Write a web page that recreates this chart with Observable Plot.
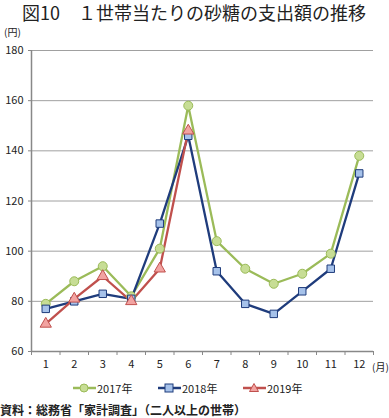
<!DOCTYPE html>
<html><head><meta charset="utf-8">
<script src="https://cdn.jsdelivr.net/npm/d3@7"></script>
<script src="https://cdn.jsdelivr.net/npm/@observablehq/plot@0.6"></script>
<style>
body{margin:0;background:#fff;font-family:"Noto Sans CJK JP","Noto Sans",sans-serif;}
#wrap{position:relative;width:389px;height:418px;overflow:hidden;}
.abs{position:absolute;white-space:nowrap;color:#222;}
#title{left:22px;top:0px;font-size:18px;line-height:24px;font-weight:400;}
#chart{position:absolute;left:0;top:25px;}
#legend{left:0;top:380px;width:389px;height:16px;font-size:11px;}
#legend .item{position:absolute;top:0;display:flex;align-items:center;}
#caption{left:0;top:402px;font-size:12px;font-weight:bold;line-height:16px;}
.unit{font-size:10px;line-height:12px;}
</style></head>
<body><div id="wrap">
<div id="title" class="abs">図10　１世帯当たりの砂糖の支出額の推移</div>
<div id="unitY" class="abs unit" style="left:4px;top:26px;">(円)</div>
<div id="unitX" class="abs unit" style="left:372px;top:361px;">(月)</div>
<div id="chart"></div>
<div id="legend" class="abs"></div>
<div id="caption" class="abs">資料：総務省「家計調査」（二人以上の世帯）</div>
</div>
<script>
const months = [1,2,3,4,5,6,7,8,9,10,11,12];
const years = ["2017年","2018年","2019年"];
const v2017 = [79,88,94,82,101,158,104,93,87,91,99,138];
const v2018 = [77,80,83,81,111,146,92,79,75,84,93,131];
const v2019 = [71,81,90,80,93,148];
const yTicks = [60,80,100,120,140,160,180];
const lineColors = ["#9BBB59","#1F3C7C","#C0504D"];
const fillColors = ["#C7DD95","#A6C2EA","#F2A3A1"];
const symbols = ["circle","square","triangle"];

const series = [v2017, v2018, v2019];
const rows = [];
series.forEach((vals, i) => vals.forEach((v, j) => rows.push({year: years[i], month: months[j], value: v})));
const bounds = d3.range(0.5, 13, 1);

const plot = Plot.plot({
  width: 389, height: 350,
  marginLeft: 31, marginRight: 16, marginTop: 25, marginBottom: 24,
  style: {fontFamily: '"Noto Sans CJK JP","Noto Sans",sans-serif', fontSize: "11px", color: "#222"},
  x: {type: "linear", domain: [0.5, 12.5], axis: null, label: null},
  y: {domain: [60, 180], axis: null, label: null},
  marks: [
    Plot.gridY(yTicks.slice(1), {stroke: "#a0a0a0", strokeOpacity: 1, strokeWidth: 1}),
    Plot.axisY({ticks: yTicks, tickSize: 3, stroke: "#888", tickPadding: 5, tickFormat: d => String(d), fontSize: 11, label: null}),
    Plot.axisX({ticks: bounds, tickSize: 4, stroke: "#888", tickFormat: () => "", label: null}),
    Plot.axisX({ticks: months, tickSize: 0, tickPadding: 9, tickFormat: d => String(d), fontSize: 11, label: null}),
    Plot.ruleX([0.5], {stroke: "#888", strokeWidth: 1.5}),
    Plot.ruleY([60], {stroke: "#888", strokeWidth: 1.5}),
    ...years.map((yr, i) => Plot.line(rows.filter(d => d.year === yr), {x: "month", y: "value", stroke: lineColors[i], strokeWidth: 2.3})),
    ...years.map((yr, i) => Plot.dot(rows.filter(d => d.year === yr), {x: "month", y: "value", symbol: () => symbols[i], r: i === 0 ? 4.5 : 4.2, fill: fillColors[i], stroke: lineColors[i], strokeWidth: 1}))
  ]
});
document.getElementById("chart").appendChild(plot);

const legend = document.getElementById("legend");
const lx = [73, 158, 243];
years.forEach((yr, i) => {
  const item = document.createElement("div");
  item.className = "item";
  item.style.left = lx[i] + "px";
  let marker;
  if (i === 0) marker = `<circle cx="11" cy="8" r="4" fill="${fillColors[i]}" stroke="${lineColors[i]}"/>`;
  else if (i === 1) marker = `<rect x="7" y="4" width="8" height="8" fill="${fillColors[i]}" stroke="${lineColors[i]}"/>`;
  else marker = `<path d="M11,3.5L15.5,11.5L6.5,11.5Z" fill="${fillColors[i]}" stroke="${lineColors[i]}"/>`;
  item.innerHTML = `<svg width="23" height="16"><line x1="0" x2="23" y1="8" y2="8" stroke="${lineColors[i]}" stroke-width="2.5"/>${marker}</svg><span style="margin-left:1px">${yr}</span>`;
  legend.appendChild(item);
});
</script>
</body></html>
